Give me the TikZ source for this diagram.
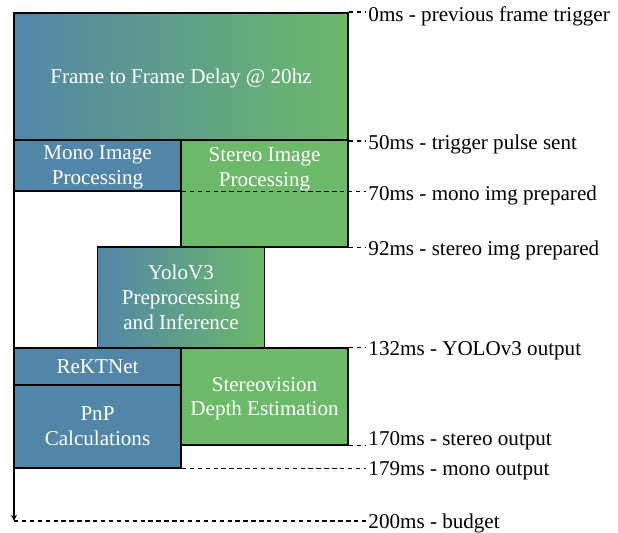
\documentclass[tikz,border=0pt]{standalone}
\usepackage{fontspec}
\setmainfont{Liberation Serif}
\usepackage{tikz}
\usepackage{xcolor}
\tikzstyle{block} = [draw, line width=1pt, inner sep=0pt, text=white, text depth=0pt, align=center, font=\fontsize{12}{14.2}\selectfont]
\tikzstyle{tick} = [line width=0.9pt, dash pattern=on 2.5pt off 2pt]
\tikzstyle{stamp} = [anchor=west, inner sep=1pt, font=\fontsize{12}{14.2}\selectfont]
\definecolor{pblue}{RGB}{82,134,168}
\definecolor{pgreen}{RGB}{108,185,106}

\begin{document}
% x: one column per unit (1.67cm), y: time in ms (0.0508cm per ms)
\begin{tikzpicture}[x=1.67cm, y=-0.0508cm]
      \useasboundingbox (-0.1677,-5.118) rectangle (7.2335,204.72);
      \coordinate (start) at (0,0);
      \coordinate (budget) at (0,200);
      \draw [line width=0.6pt,->,>=stealth] (start) -- (budget);

      \node (frame) [block, minimum width=6.68cm, minimum height=2.54cm, left color=pblue, right color=pgreen] at (2,25) {Frame to Frame Delay @ 20hz};
      \node (mono) [block, minimum width=3.34cm, minimum height=1.016cm, fill=pblue] at (1,60) {Mono Image\\Processing};
      \node (stereo) [block, minimum width=3.34cm, minimum height=2.134cm, fill=pgreen] at (3,71) {};
      \node (stereotxt) [block, draw=none] at (3,60.6) {Stereo Image\\Processing};
      \node (yolo) [block, minimum width=3.34cm, minimum height=2.032cm, left color=pblue, right color=pgreen] at (2,112) {YoloV3\\Preprocessing\\and Inference};
      \node (rekt) [block, minimum width=3.34cm, minimum height=0.737cm, fill=pblue] at (1,139.25) {ReKTNet};
      \node (pnp) [block, minimum width=3.34cm, minimum height=1.651cm, fill=pblue] at (1,162.75) {PnP\\Calculations};
      \node (depth) [block, minimum width=3.34cm, minimum height=1.930cm, fill=pgreen] at (3,151) {Stereovision\\Depth Estimation};

      \node (t0) [stamp] at (4.22,1.2) {0ms - previous frame trigger};
      \node (t50) [stamp] at (4.22,51.7) {50ms - trigger pulse sent};
      \node (t70) [stamp] at (4.22,71.8) {70ms - mono img prepared};
      \node (t92) [stamp] at (4.22,93.4) {92ms - stereo img prepared};
      \node (t132) [stamp] at (4.22,133) {132ms - YOLOv3 output};
      \node (t170) [stamp] at (4.22,168.4) {170ms - stereo output};
      \node (t179) [stamp] at (4.22,180.3) {179ms - mono output};
      \node (t200) [stamp] at (4.22,201.1) {200ms - budget};

      \draw [tick] (frame.north east) -- (frame.north east -| t0.west);
      \draw [tick] (frame.south east) -- (frame.south east -| t50.west);
      \draw [tick] (mono.south east) -- (mono.south east -| t70.west);
      \draw [tick] (stereo.south east) -- (stereo.south east -| t92.west);
      \draw [tick] (depth.north east) -- (depth.north east -| t132.west);
      \draw [tick] (depth.south east) -- (depth.south east -| t170.west);
      \draw [tick] (pnp.south east) -- (pnp.south east -| t179.west);
      \draw [tick] (budget) -- (budget -| t200.west);
\end{tikzpicture}
\end{document}
